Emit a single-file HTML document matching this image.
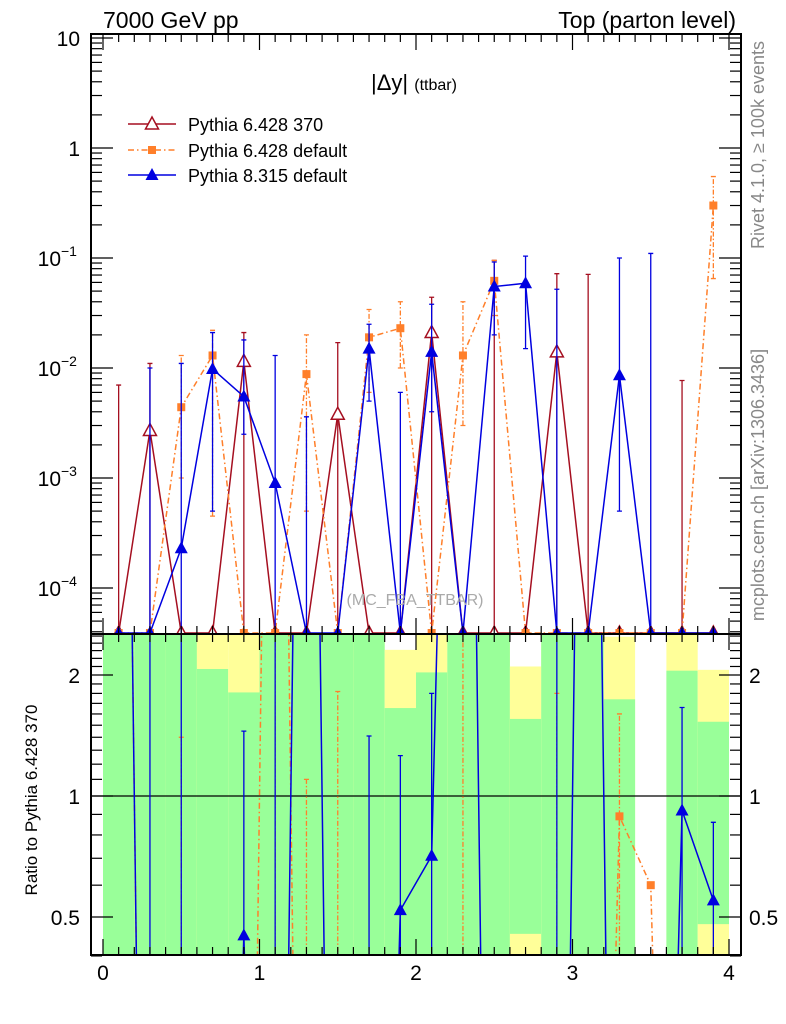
<!DOCTYPE html>
<html><head><meta charset="utf-8"><style>
html,body{margin:0;padding:0;background:#fff;overflow:hidden;width:786px;height:1024px;}
svg{display:block;font-family:"Liberation Sans",sans-serif;}
</style></head><body>
<svg id="c" width="786" height="1024" xmlns="http://www.w3.org/2000/svg">
<defs>
<clipPath id="cm"><rect x="91" y="34" width="650" height="600"/></clipPath>
<clipPath id="cr"><rect x="91" y="634" width="650" height="321"/></clipPath>
</defs>
<g id="bands" clip-path="url(#cr)"></g>
<g id="ratio" clip-path="url(#cr)"></g>
<g id="main" clip-path="url(#cm)"></g>
<g id="axes"></g>
<text x="103" y="28" font-size="23">7000 GeV pp</text>
<text x="736" y="28" font-size="23" text-anchor="end">Top (parton level)</text>
<text x="371" y="90" font-size="22">|Δy| <tspan font-size="16">(ttbar)</tspan></text>
<text x="415" y="605" font-size="16" fill="#aaa" text-anchor="middle">(MC_FBA_TTBAR)</text>
<text transform="translate(764,145) rotate(-90)" font-size="18" fill="#888" text-anchor="middle">Rivet 4.1.0, ≥ 100k events</text>
<text transform="translate(764,485) rotate(-90)" font-size="18" fill="#888" text-anchor="middle">mcplots.cern.ch [arXiv:1306.3436]</text>
<text transform="translate(37,800) rotate(-90)" font-size="17" text-anchor="middle">Ratio to Pythia 6.428 370</text>
<g>
<g><line x1="128" y1="124" x2="176" y2="124" stroke="#a50f20" stroke-width="1.5"/><polygon points="152,117 145.5,129 158.5,129" fill="#fff" stroke="#a50f20" stroke-width="1.5"/><text x="188" y="131" font-size="18">Pythia 6.428 370</text></g>
<g><line x1="128" y1="150" x2="176" y2="150" stroke="#ff7f2a" stroke-width="1.5" stroke-dasharray="6,3,1.5,3"/><rect x="148" y="146" width="8" height="8" fill="#ff7f2a"/><text x="188" y="157" font-size="18">Pythia 6.428 default</text></g>
<g><line x1="128" y1="175" x2="176" y2="175" stroke="#0000e0" stroke-width="1.5"/><polygon points="152,168 145.5,180 158.5,180" fill="#0000e0"/><text x="188" y="182" font-size="18">Pythia 8.315 default</text></g>
</g>
</svg>
<script>
const xCenters=[0.1,0.3,0.5,0.7,0.9,1.1,1.3,1.5,1.7,1.9,2.1,2.3,2.5,2.7,2.9,3.1,3.3,3.5,3.7,3.9];
const redVals=[0,0.0027,0,0,0.0115,0,0,0.0038,0,0,0.021,0,0,0,0.014,0,0,0,0,0];
const redHi=[0.007,0.011,0,0,0.021,0,0,0.017,0,0,0.044,0,0.095,0,0.072,0.071,0,0,0.0077,0];
const orgVals=[0,0,0.0044,0.013,0,0,0.0088,0,0.019,0.023,0,0.013,0.062,0,0,0,0,0,0,0.3];
const orgHi=[0,0,0.013,0.022,0,0,0.02,0,0.034,0.04,0,0.04,0.095,0,0,0,0,0,0,0.55];
const orgLo=[0,0,0.001,0.00045,0,0,0.0005,0,0.006,0.01,0,0.003,0.03,0,0,0,0,0,0,0.065];
const bluVals=[0,0,0.00023,0.0098,0.0055,0.0009,0,0,0.015,0,0.014,0,0.055,0.059,0,0,0.0086,0,0,0];
const bluHi=[0,0.01,0.011,0.021,0.018,0.013,0.0036,0,0.025,0.006,0.038,0,0.092,0.104,0.052,0,0.1,0.11,0,0];
const bluLo=[0,0,0,0.0005,0.0025,0,0,0,0.005,0,0.004,0,0.02,0.015,0,0,0.0005,0,0,0];
const binEdges=[0,0.2,0.4,0.6,0.8,1.0,1.2,1.4,1.6,1.8,2.0,2.2,2.4,2.6,2.8,3.0,3.2,3.4,3.6,3.8,4.0];
const yellowTop=[10,10,10,10,10,10,10,10,10,2.31,10,10,10,2.1,10,10,2.49,0,10,2.06];
const greenTop=[10,10,10,2.07,1.81,10,10,10,10,1.655,2.03,10,10,1.555,10,10,1.74,0,2.05,1.53];
const greenBot=[0.1,0.1,0.1,0.1,0.1,0.1,0.1,0.1,0.1,0.1,0.1,0.1,0.1,0.454,0.1,0.1,0.1,0,0.1,0.48];
const ratioBlue=[1000,0.001,0.001,0.001,0.45,0.001,1000,0.001,0.001,0.52,0.71,1000,0.001,0.001,0.001,1000,0.001,0.001,0.92,0.55];
const ratioBlueHi=[0,10,10,0,1.45,10,0,0,1.41,1.26,1.8,0,0,0,10,0,0,0,1.66,0.86];
const ratioOrg=[1000,0.001,0.001,0.001,0.001,1000,0.001,0.001,0.001,0.001,0.001,0.001,0.001,0.001,0.001,0.001,0.89,0.6,0.001,0.001];
const ratioOrgHi=[0,0,1.4,0,0,10,1.1,1.82,0,0,0,10,0,0,1.8,0,1.6,0,0,0];
const yMainTicks=[10,1,0.1,0.01,0.001,0.0001];
const yMainLabels=["10","1","10","10","10","10"];
const yMainExp=["","","−1","−2","−3","−4"];
const yRatioTicks=[2,1,0.5];
const xTickLabels=[0,1,2,3,4];

const NS="http://www.w3.org/2000/svg";
const X0=103,XS=156.5,FLOOR=633;
function xs(v){return X0+v*XS;}
function ym(v){if(v<=0)return FLOOR;const y=38+(1-Math.log10(v))*110;return Math.min(y,FLOOR);}
function yr(r){return 796-Math.log2(r)*121;}
function mk(tag,attrs,parent){const e=document.createElementNS(NS,tag);for(const k in attrs)e.setAttribute(k,attrs[k]);parent.appendChild(e);return e;}
const gMain=document.getElementById('main'),gR=document.getElementById('ratio'),gB=document.getElementById('bands'),gA=document.getElementById('axes');
const RED="#a50f20",ORG="#ff7f2a",BLU="#0000e0",DASH="6,3,1.5,3";

for(let i=0;i<xCenters.length;i++){
  const x1=xs(binEdges[i]),x2=xs(binEdges[i+1]);
  if(yellowTop[i]>0){
    const y=mk('rect',{x:x1,y:yr(yellowTop[i]),width:x2-x1,height:yr(0.1)-yr(yellowTop[i]),fill:'#ffff99'},gB);
    
    
    const g=mk('rect',{x:x1,y:yr(greenTop[i]),width:x2-x1,height:yr(greenBot[i])-yr(greenTop[i]),fill:'#99ff99'},gB);
    
    
  }
}
mk('line',{x1:91,x2:741,y1:yr(1),y2:yr(1),stroke:'#000','stroke-width':1.2},gR);

function series(vals,hi,lo,color,dash,marker,g,name,yf){
  let pts=vals.map((v,i)=>xs(xCenters[i])+','+yf(v)).join(' ');
  const pl=mk('polyline',{points:pts,fill:'none',stroke:color,'stroke-width':1.5},g);
  if(dash)pl.setAttribute('stroke-dasharray',dash);
  
  
  vals.forEach((v,i)=>{
    const x=xs(xCenters[i]);
    if(hi&&hi[i]>0){
      const yl=lo?yf(lo[i]):yf(0),yh=yf(hi[i]);
      const e=mk('path',{d:`M${x},${yl}V${yh}M${x-2.5},${yh}H${x+2.5}`+(lo&&lo[i]>0?`M${x-2.5},${yl}H${x+2.5}`:''),stroke:color,'stroke-width':1.3,fill:'none'},g);
      if(dash)e.setAttribute('stroke-dasharray','5,2,1.5,2');
      
      
    }
    const y=yf(v);
    let m;
    if(marker==='open')m=mk('polygon',{points:`${x},${y-7} ${x-6.5},${y+5} ${x+6.5},${y+5}`,fill:'#fff',stroke:color,'stroke-width':1.5},g);
    else if(marker==='tri')m=mk('polygon',{points:`${x},${y-7} ${x-6.5},${y+5} ${x+6.5},${y+5}`,fill:color},g);
    else m=mk('rect',{x:x-4,y:y-4,width:8,height:8,fill:color},g);
    
    
  });
}
series(redVals,redHi,null,RED,null,'open',gMain,'p6-370',ym);
series(orgVals,orgHi,orgLo,ORG,DASH,'sq',gMain,'p6-default',ym);
series(bluVals,bluHi,bluLo,BLU,null,'tri',gMain,'p8-default',ym);
series(ratioOrg,ratioOrgHi,null,ORG,DASH,'sq',gR,'ratio-p6-default',v=>yr(v<=0?0.001:v));
series(ratioBlue,ratioBlueHi,null,BLU,null,'tri',gR,'ratio-p8-default',v=>yr(v<=0?0.001:v));

for(const [t,b] of [[34,634],[634,955]]){
  const f=mk('rect',{x:91,y:t,width:650,height:b-t,fill:'none',stroke:'#000','stroke-width':2},gA);
  
  
}
for(let k=0;k<=40;k++){
  const v=k/10,x=xs(v),L=(k%10===0)?16:8;
  for(const [t,b] of [[34,634],[634,955]]){
    mk('line',{x1:x,x2:x,y1:b,y2:b-L,stroke:'#000','stroke-width':1.2},gA);
    mk('line',{x1:x,x2:x,y1:t,y2:t+L,stroke:'#000','stroke-width':1.2},gA);
  }
}
xTickLabels.forEach(v=>{const t=mk('text',{x:xs(v),y:980,'font-size':21,'text-anchor':'middle'},gA);t.textContent=v;

});
for(let d=-5;d<=1;d++){
  for(let m=1;m<=9;m++){
    const v=m*Math.pow(10,d),y=ym(v);
    if(y<34||y>=633)continue;
    const L=m===1?22:11;
    mk('line',{x1:91,x2:91+L,y1:y,y2:y,stroke:'#000','stroke-width':1.2},gA);
    mk('line',{x1:741,x2:741-L,y1:y,y2:y,stroke:'#000','stroke-width':1.2},gA);
  }
}
yMainTicks.forEach((v,i)=>{const t=mk('text',{x:80,y:ym(v)+8,'font-size':21,'text-anchor':'end'},gA);
 t.textContent=yMainLabels[i];
 if(yMainExp[i]){t.setAttribute('x',61);const s=mk('tspan',{dy:-10,'font-size':14,x:61},t);s.textContent=yMainExp[i];s.setAttribute('text-anchor','start');}
 
 });
const rMinor=[0.4,0.5,0.6,0.7,0.8,0.9,1,1.1,1.2,1.3,1.4,1.5,1.6,1.7,1.8,1.9,2,2.1,2.2,2.3,2.4,2.5];
rMinor.forEach(v=>{const y=yr(v);const L=[0.5,1,2].includes(v)?22:11;
 mk('line',{x1:91,x2:91+L,y1:y,y2:y,stroke:'#000','stroke-width':1.2},gA);
 mk('line',{x1:741,x2:741-L,y1:y,y2:y,stroke:'#000','stroke-width':1.2},gA);});
yRatioTicks.forEach(v=>{
 const t=mk('text',{x:80,y:yr(v)+8,'font-size':21,'text-anchor':'end'},gA);t.textContent=v;
 
 
 const t2=mk('text',{x:749,y:yr(v)+8,'font-size':21},gA);t2.textContent=v;
 
 });
</script>
</body></html>
